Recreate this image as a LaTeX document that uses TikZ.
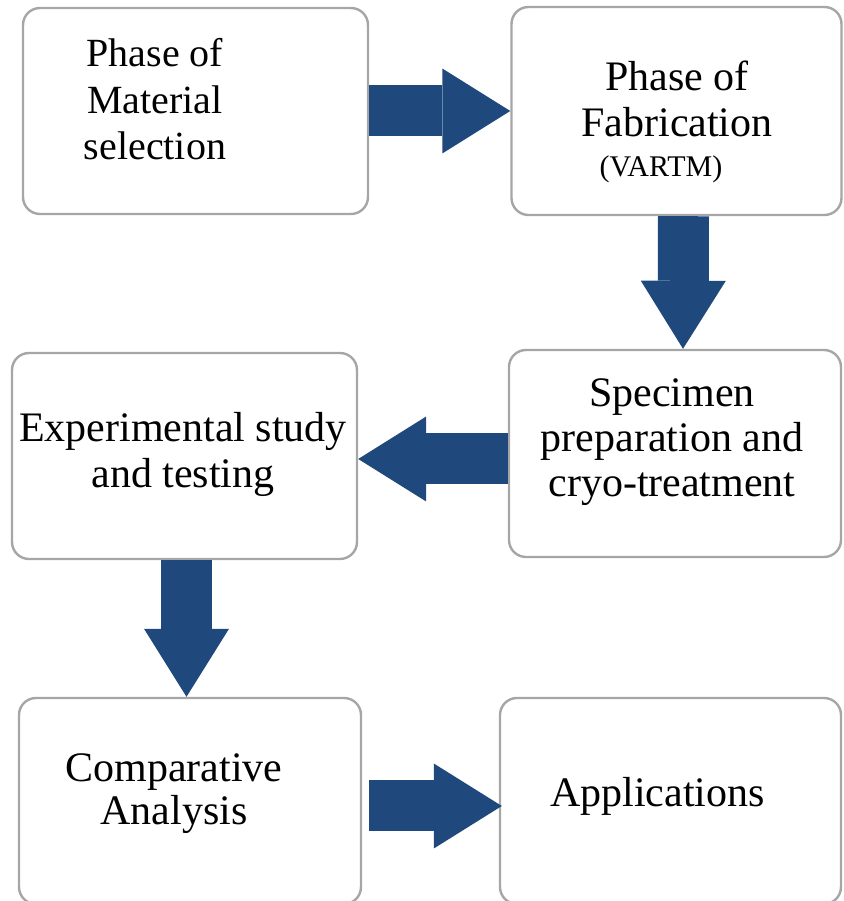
\documentclass[tikz,border=0pt]{standalone}
\usepackage{fontspec}
\setmainfont{Liberation Serif}
\usepackage{xcolor}
\usetikzlibrary{arrows.meta, positioning, calc}

\definecolor{flowblue}{HTML}{1F497D}

\tikzset{
	phasebox/.style={draw=gray!70, line width=1.2pt, rounded corners=8.5pt,
		minimum width=#1, minimum height=103pt, inner sep=0pt},
	phasetext/.style={align=center, inner sep=0pt, anchor=base,
		font=\fontsize{21}{23}\selectfont},
	flow/.style={draw=flowblue, line width=25.5pt,
		-{Triangle[width=42.5pt, length=34pt, line width=0pt]}}
}

\begin{document}
\begin{tikzpicture}[x=0.5pt, y=0.5pt]
			\useasboundingbox (0,0) rectangle (843,901);
			\clip (0,0) rectangle (843,901);
			% the six phases
			\node[phasebox=172.5pt] (matsel) at (195.5,790) {};
			\node[phasebox=165pt, minimum height=104pt] (fabric) at (676.5,790) {};
			\node[phasebox=166pt, minimum height=103.5pt] (specimen) at (675,447.5) {};
			\node[phasebox=172.5pt] (exptest) at (184.5,445) {};
			\node[phasebox=171pt] (compana) at (190,100) {};
			\node[phasebox=170.5pt] (applic) at (670.5,100) {};
			% texts (base = baseline of the last line)
			\node[phasetext, font=\fontsize{20}{23.25}\selectfont] (matseltext) at (155,741)
			{Phase of\\Material\\selection};
			\node[phasetext] (fabrictext) at (677,764) {Phase of\\Fabrication};
			\node[phasetext, font=\fontsize{15}{17}\selectfont] (vartm) at (661,724) {(VARTM)};
			\node[phasetext, font=\fontsize{21}{22.5}\selectfont] (specimentext) at (672,404)
			{Specimen\\preparation and\\cryo-treatment};
			\node[phasetext] (exptesttext) at (183,413) {Experimental study\\and testing};
			\node[phasetext, font=\fontsize{21}{21.5}\selectfont] (companatext) at (174,76)
			{Comparative\\Analysis};
			\node[phasetext] (applictext) at (657.5,94) {Applications};
			% block arrows between the phases
			\draw[flow] (matsel.east) -- (fabric.west);
			\draw[flow] ([xshift=3.5pt]fabric.south) -- ([xshift=4pt]specimen.north);
			\draw[flow] ([yshift=-2.75pt]specimen.west) -- ([yshift=-1.5pt]exptest.east);
			\draw[flow] ([xshift=1pt]exptest.south) -- ([xshift=-1.75pt]compana.north);
			\draw[flow] ([xshift=3.5pt, yshift=-2.5pt]compana.east)
			-- ([xshift=1.5pt, yshift=-2.5pt]applic.west);
		\end{tikzpicture}
\end{document}
